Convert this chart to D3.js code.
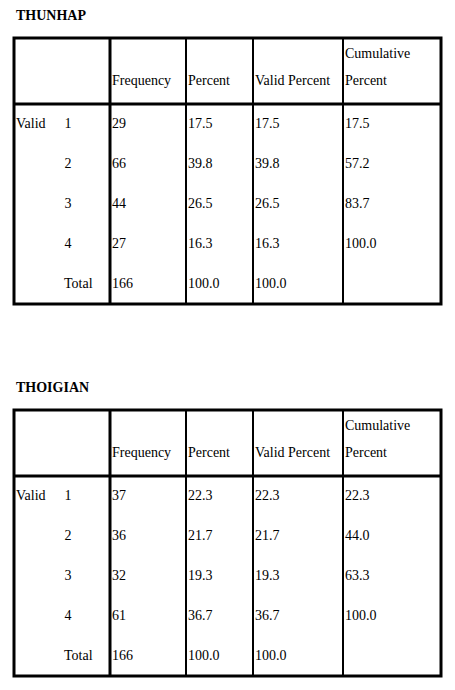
<!DOCTYPE html><html><head><meta charset="utf-8"><script src="https://cdn.jsdelivr.net/npm/d3@7"></script>
<style>body{margin:0;background:#fff}</style></head><body><script>
const titles=["THUNHAP","THOIGIAN"];
const rowLabels=["1","2","3","4","Total"];
const headers=["Frequency","Percent","Valid Percent","Cumulative|Percent"];
const freq1=["29","66","44","27","166"], pct1=["17.5","39.8","26.5","16.3","100.0"], cum1=["17.5","57.2","83.7","100.0",""];
const freq2=["37","36","32","61","166"], pct2=["22.3","21.7","19.3","36.7","100.0"], cum2=["22.3","44.0","63.3","100.0",""];
const tables=[[freq1,pct1,pct1,cum1],[freq2,pct2,pct2,cum2]];
const svg=d3.select("body").append("svg").attr("width",455).attr("height",690);
const font="'Liberation Serif','Times New Roman',serif";
const colX=[14,110,186,253,343,441];
tables.forEach((cols,t)=>{
  const oy=t*372;
  const g=svg.append("g").attr("transform",`translate(0,${oy})`);
  g.append("text").attr("x",16).attr("y",20).attr("font-family",font).attr("font-weight","bold").attr("font-size",14).text(titles[t]);
  const top=38,hb=104,bot=304;
  g.append("rect").attr("x",colX[0]).attr("y",top).attr("width",colX[5]-colX[0]).attr("height",bot-top).attr("fill","none").attr("stroke","#000").attr("stroke-width",3);
  g.append("line").attr("x1",colX[0]).attr("x2",colX[5]).attr("y1",hb).attr("y2",hb).attr("stroke","#000").attr("stroke-width",3);
  colX.slice(1,5).forEach((x,i)=>g.append("line").attr("x1",x).attr("x2",x).attr("y1",top).attr("y2",bot).attr("stroke","#000").attr("stroke-width",i==0?3:2));
  headers.forEach((h,i)=>{
    const parts=h.split("|");
    parts.forEach((p,j)=>g.append("text").attr("x",colX[i+1]+2).attr("y",parts.length==2?(j==0?58:85):85).attr("font-family",font).attr("font-size",14).text(p));
  });
  const ry=d3.scalePoint().domain(rowLabels).range([128,288]);
  g.append("text").attr("x",16).attr("y",ry("1")).attr("font-family",font).attr("font-size",14).text("Valid");
  rowLabels.forEach((r,k)=>{
    g.append("text").attr("x",r=="Total"?64:68).attr("text-anchor",r=="Total"?"start":"middle").attr("y",ry(r)).attr("font-family",font).attr("font-size",14).text(r);
    cols.forEach((c,i)=>g.append("text").attr("x",colX[i+1]+2).attr("y",ry(r)).attr("font-family",font).attr("font-size",14).text(c[k]));
  });
});
</script></body></html>
